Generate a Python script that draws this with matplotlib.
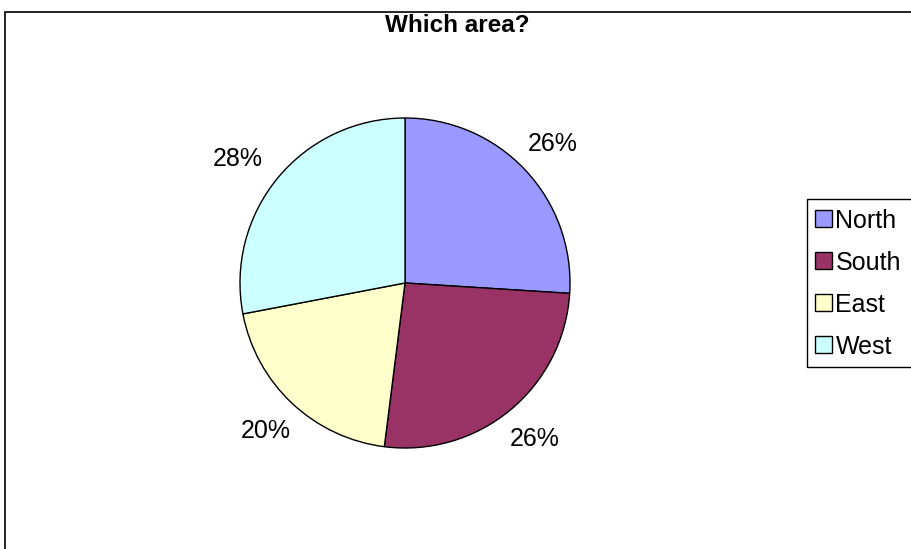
import matplotlib
matplotlib.use("Agg")
import matplotlib.pyplot as plt
from matplotlib.patches import Rectangle, Patch

plt.rcParams['font.family'] = ['Liberation Sans', 'DejaVu Sans']

# data
areas = ['North', 'South', 'East', 'West']
shares = [26, 26, 20, 28]
colors = ['#9999FF', '#993366', '#FFFFCC', '#CCFFFF']

W, H = 912, 549
fig = plt.figure(figsize=(W / 100, H / 100), dpi=100)

# chart frame (runs off the right and bottom edges)
fig.patches.append(Rectangle((5 / W, -0.1), 1.2, 1 - 12 / H + 0.1, transform=fig.transFigure,
                             fill=False, edgecolor='black', linewidth=1.2))

fig.text(457 / W, 1 - 25 / H, 'Which area?', ha='center', va='center',
         fontsize=17.5, fontweight='bold')

# pie axes, centred on the pie
cx, cy, r = 405, 283, 165
ax = fig.add_axes([(cx - r) / W, 1 - (cy + r) / H, 2 * r / W, 2 * r / H])

wedges, texts, autotexts = ax.pie(shares, colors=colors, startangle=90, counterclock=False,
                                  radius=1, autopct='%1.0f%%', pctdistance=1.23,
                                  wedgeprops=dict(edgecolor='black', linewidth=1),
                                  textprops=dict(fontsize=18))
ax.set_xlim(-1, 1)
ax.set_ylim(-1, 1)
ax.set_aspect('equal')
ax.axis('off')
for w in wedges:
    w.set_clip_on(False)
for t in autotexts:
    t.set_clip_on(False)
# small nudge so the West label sits like the original
x, y = autotexts[3].get_position()
autotexts[3].set_position((x - 0.065, y - 0.035))

# legend box runs past the right edge in the original
fig.patches.append(Rectangle((807 / W, 1 - 367 / H), 110 / W, 168 / H, transform=fig.transFigure,
                             fill=False, edgecolor='black', linewidth=1))
handles = [Patch(facecolor=c, edgecolor='black', linewidth=1) for c in colors]
leg = fig.legend(handles, areas, loc='upper left', bbox_to_anchor=(808 / W, 1 - 201 / H),
                 fontsize=18, frameon=False,
                 handlelength=0.65, handleheight=0.65, handletextpad=0.15,
                 labelspacing=0.72, borderpad=0.3, borderaxespad=0)

fig.savefig('out.png', dpi=100)
